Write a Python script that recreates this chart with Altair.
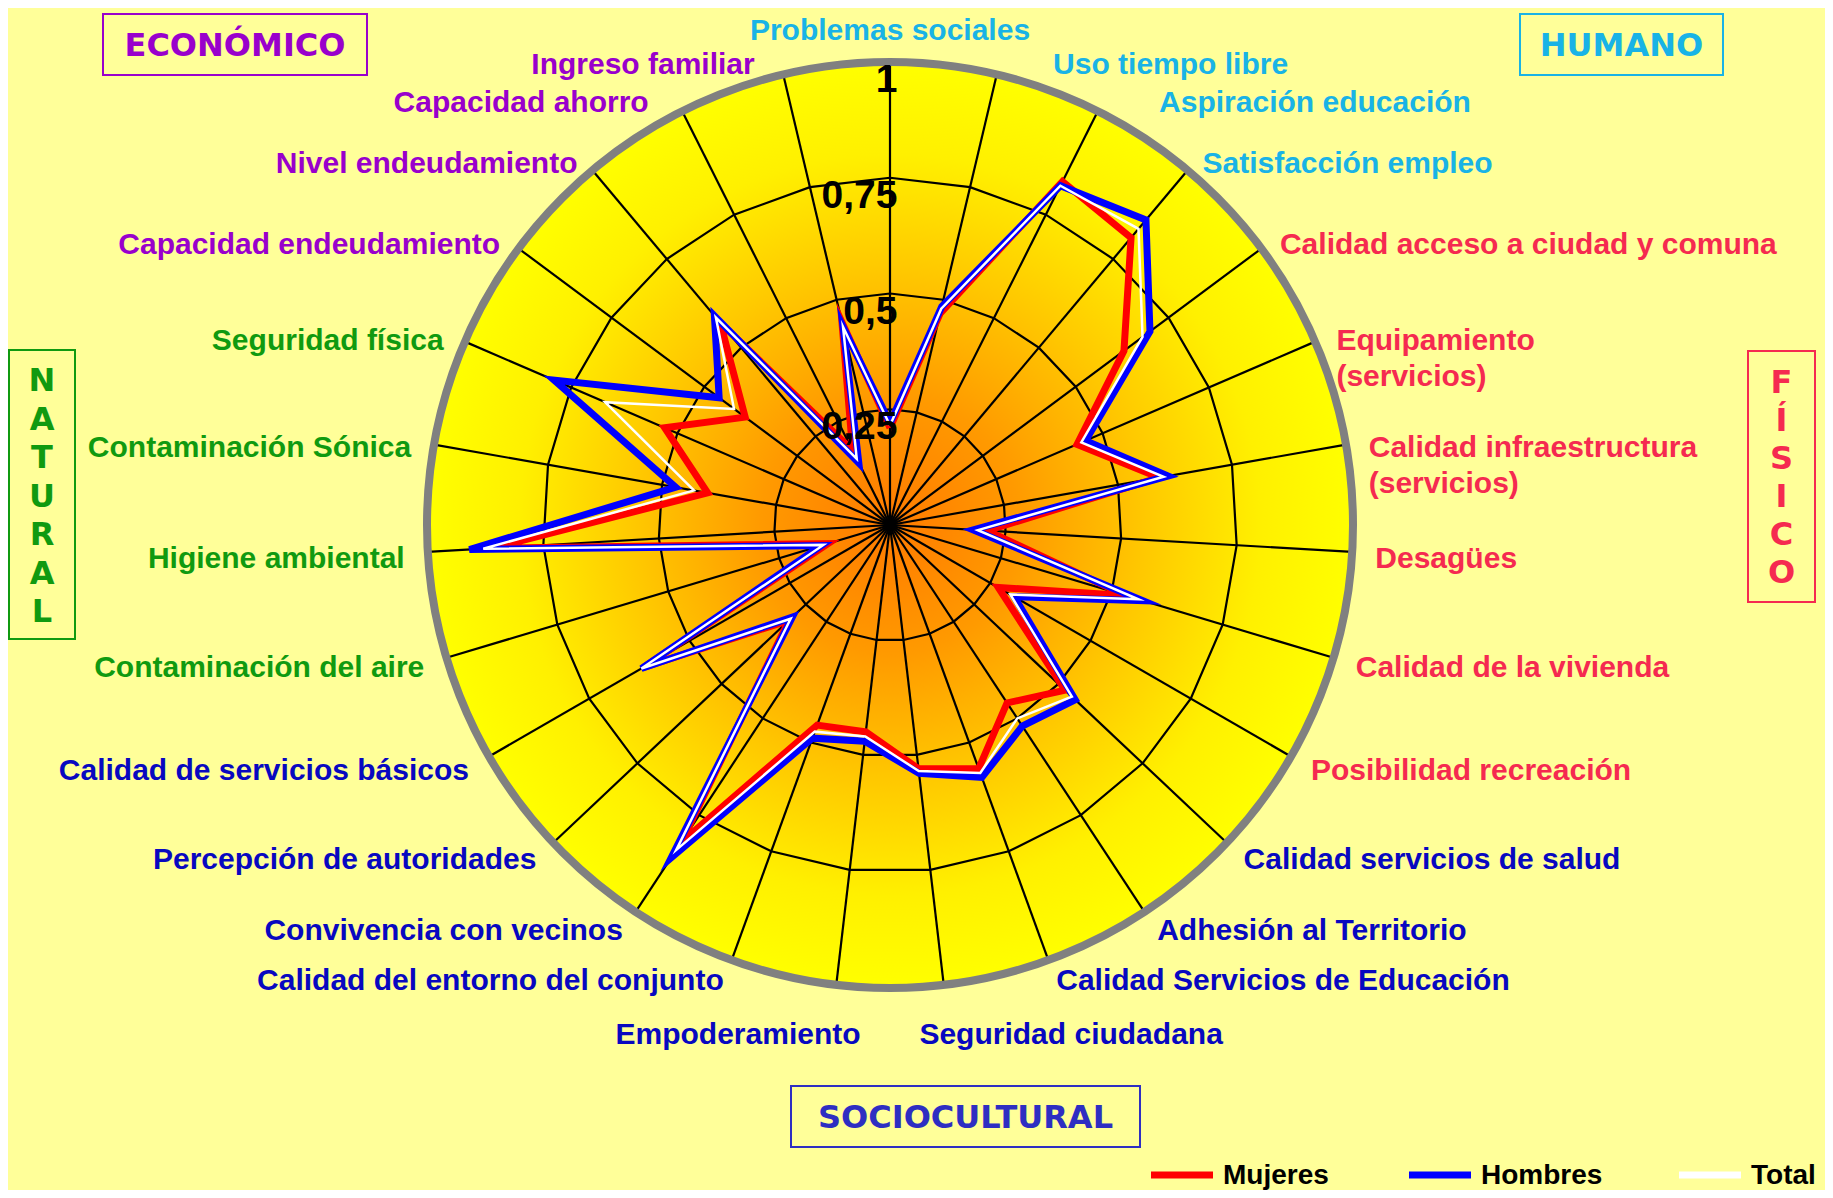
import math
import altair as alt
import pandas as pd

# ---------------- data ----------------
categories = [
    "Problemas sociales", "Uso tiempo libre", "Aspiración educación", "Satisfacción empleo",
    "Calidad acceso a ciudad y comuna", "Equipamiento\n(servicios)",
    "Calidad infraestructura\n(servicios)", "Desagües", "Calidad de la vivienda",
    "Posibilidad recreación", "Calidad servicios de salud", "Adhesión al Territorio",
    "Calidad Servicios de Educación", "Seguridad ciudadana", "Empoderamiento",
    "Calidad del entorno del conjunto", "Convivencia con vecinos", "Percepción de autoridades",
    "Calidad de servicios básicos", "Contaminación del aire", "Higiene ambiental",
    "Contaminación Sónica", "Seguridad física", "Capacidad endeudamiento",
    "Nivel endeudamiento", "Capacidad ahorro", "Ingreso familiar",
]
groups = (["HUMANO"] * 4 + ["FÍSICO"] * 6 + ["SOCIOCULTURAL"] * 9
          + ["NATURAL"] * 4 + ["ECONÓMICO"] * 4)

mujeres = [0.21, 0.47, 0.83, 0.81, 0.63, 0.44, 0.59, 0.21, 0.53, 0.27, 0.52, 0.46, 0.56, 0.53,
           0.45, 0.46, 0.82, 0.30, 0.615, 0.14, 0.86, 0.40, 0.53, 0.39, 0.57, 0.18, 0.45]
hombres = [0.22, 0.485, 0.82, 0.86, 0.70, 0.46, 0.61, 0.18, 0.57, 0.31, 0.55, 0.52, 0.58, 0.54,
           0.47, 0.49, 0.86, 0.29, 0.62, 0.155, 0.91, 0.47, 0.79, 0.46, 0.59, 0.15, 0.44]
total = [0.215, 0.48, 0.82, 0.835, 0.68, 0.45, 0.60, 0.19, 0.56, 0.30, 0.54, 0.50, 0.57, 0.535,
         0.46, 0.475, 0.84, 0.295, 0.62, 0.15, 0.88, 0.43, 0.67, 0.42, 0.585, 0.16, 0.44]

series_names = ["Mujeres", "Hombres", "Total"]
tick_values = [0.25, 0.5, 0.75, 1.0]
tick_labels = ["0,25", "0,5", "0,75", "1"]

# ---------------- styling / layout ----------------
W, H = 1817, 1182
R = 463.0          # pixels for value 1
CX, CY = 882.0, 517.0
N = len(categories)

BG = "#FFFF99"
SANS = "Liberation Sans, Arial, sans-serif"
WIDE = "DejaVu Sans, Verdana, sans-serif"
group_colors = {
    "HUMANO": "#19B3E6",
    "FÍSICO": "#F52A50",
    "SOCIOCULTURAL": "#0808C0",
    "NATURAL": "#109A10",
    "ECONÓMICO": "#9900CC",
}
series_colors = {"Mujeres": "#FF0000", "Hombres": "#0000FF", "Total": "#FFFFFF"}
series_widths = {"Mujeres": 7, "Hombres": 7, "Total": 2.5}

xs = alt.Scale(domain=[-CX / R, (W - CX) / R], nice=False, zero=False)
ys = alt.Scale(domain=[-(H - CY) / R, CY / R], nice=False, zero=False)


def X(f):
    return alt.X(f, type="quantitative", scale=xs, axis=None)


def Y(f):
    return alt.Y(f, type="quantitative", scale=ys, axis=None)


def ang(i):
    return 2 * math.pi * i / N


# ---------------- background disc ----------------
center_df = pd.DataFrame({"x": [0.0], "y": [0.0]})
gradient = alt.RadialGradient(
    gradient="radial",
    stops=[
        alt.GradientStop(color="#FF7A00", offset=0),
        alt.GradientStop(color="#FF9A00", offset=0.28),
        alt.GradientStop(color="#FFC800", offset=0.55),
        alt.GradientStop(color="#FFF000", offset=0.8),
        alt.GradientStop(color="#FFFF00", offset=1),
    ],
    x1=0.5, y1=0.5, r1=0, x2=0.5, y2=0.5, r2=0.5,
)
disc = alt.Chart(center_df).mark_point(
    shape="circle", size=(2 * R) ** 2, fill=gradient, filled=True,
    strokeWidth=0, opacity=1,
).encode(x=X("x"), y=Y("y"))

ring_outline = alt.Chart(center_df).mark_point(
    shape="circle", size=(2 * R) ** 2, filled=False, color="#808080",
    strokeWidth=8, opacity=1,
).encode(x=X("x"), y=Y("y"))

# ---------------- grid ----------------
grid_rows = []
for r in tick_values[:-1]:
    for k in range(N + 1):
        a = ang(k % N)
        grid_rows.append({"ring": r, "k": k, "x": r * math.sin(a), "y": r * math.cos(a)})
grid = alt.Chart(pd.DataFrame(grid_rows)).mark_line(color="black", strokeWidth=2.2).encode(
    x=X("x"), y=Y("y"), detail="ring:N", order="k:Q")

spoke_df = pd.DataFrame({
    "x0": [0.0] * N, "y0": [0.0] * N,
    "x1": [math.sin(ang(i)) for i in range(N)],
    "y1": [math.cos(ang(i)) for i in range(N)],
})
spokes = alt.Chart(spoke_df).mark_rule(color="black", strokeWidth=2.2).encode(
    x=X("x0"), y=Y("y0"), x2="x1", y2="y1")

# ---------------- series ----------------
values = {"Mujeres": mujeres, "Hombres": hombres, "Total": total}
series_layers = []
for s in series_names:
    rows = []
    for k in range(N + 1):
        i = k % N
        v = values[s][i]
        rows.append({"k": k, "cat": categories[i], "value": v,
                     "x": v * math.sin(ang(i)), "y": v * math.cos(ang(i))})
    series_layers.append(
        alt.Chart(pd.DataFrame(rows)).mark_line(
            color=series_colors[s], strokeWidth=series_widths[s],
            strokeJoin="miter", strokeMiterLimit=6,
        ).encode(x=X("x"), y=Y("y"), order="k:Q")
    )

# ---------------- tick labels ----------------
tick_df = pd.DataFrame({"x": [0.016] * 4, "y": tick_values, "label": tick_labels})
ticks = alt.Chart(tick_df).mark_text(
    align="right", baseline="top", font=SANS, fontSize=39, fontWeight="bold",
    color="black", dy=-1,
).encode(x=X("x"), y=Y("y"), text="label:N")

# ---------------- category labels ----------------
lab_rows = []
for i, c in enumerate(categories):
    s, co = math.sin(ang(i)), math.cos(ang(i))
    if abs(s) < 0.15:
        rr = 1.08 if co > 0 else 1.095
        x, y = rr * s * 0.5, rr * co
        side = "center" if abs(s) < 0.05 else ("left" if s > 0 else "right")
    else:
        x, y = 1.05 * s, 1.035 * co
        if co > 0.85:
            x += 0.11 if s > 0 else -0.05
        side = "left" if s > 0 else "right"
    lab_rows.append({"label": c, "group": groups[i], "side": side, "x": x, "y": y})
lab_df = pd.DataFrame(lab_rows)
color_scale = alt.Scale(domain=list(group_colors.keys()), range=list(group_colors.values()))
label_layers = []
for side in ["left", "right", "center"]:
    label_layers.append(
        alt.Chart(lab_df[lab_df.side == side]).mark_text(
            align=side, baseline="middle", font=SANS, fontSize=30,
            fontWeight="bold", lineBreak="\n", lineHeight=36, dy=6,
        ).encode(x=X("x"), y=Y("y"), text="label:N",
                 color=alt.Color("group:N", scale=color_scale, legend=None))
    )

# ---------------- group boxes ----------------
one = pd.DataFrame({"a": [0]})


def box(text, x0, y0, x1, y1, color, first_y=None, line_height=None):
    rect = alt.Chart(one).mark_rect(fillOpacity=0, stroke=color, strokeWidth=2).encode(
        x=alt.value(x0), x2=alt.value(x1), y=alt.value(y0), y2=alt.value(y1))
    kw = {}
    ty = (y0 + y1) / 2 + 1
    if line_height:
        kw = {"lineBreak": "\n", "lineHeight": line_height}
        ty = first_y
    txt = alt.Chart(one).mark_text(
        text=text, align="center", baseline="middle", font=WIDE, fontSize=32,
        fontWeight="bold", color=color, **kw,
    ).encode(x=alt.value((x0 + x1) / 2), y=alt.value(ty))
    return [rect, txt]


boxes = []
boxes += box("ECONÓMICO", 95, 6, 359, 67, group_colors["ECONÓMICO"])
boxes += box("HUMANO", 1512, 6, 1715, 67, group_colors["HUMANO"])
boxes += box("SOCIOCULTURAL", 783, 1078, 1132, 1139, "#2E2EC2")
boxes += box("N\nA\nT\nU\nR\nA\nL", 1, 342, 67, 631, group_colors["NATURAL"],
             first_y=373, line_height=38.5)
boxes += box("F\nÍ\nS\nI\nC\nO", 1740, 343, 1807, 594, group_colors["FÍSICO"],
             first_y=375, line_height=38)

# ---------------- legend ----------------
legend_layers = []
legend_pos = {"Mujeres": 1143, "Hombres": 1401, "Total": 1671}
for s in series_names:
    x0 = legend_pos[s]
    legend_layers.append(
        alt.Chart(one).mark_rule(color=series_colors[s], strokeWidth=7).encode(
            x=alt.value(x0), x2=alt.value(x0 + 62), y=alt.value(1167), y2=alt.value(1167)))
    legend_layers.append(
        alt.Chart(one).mark_text(
            text=s, align="left", baseline="middle", font=SANS, fontSize=28,
            fontWeight="bold", color="black",
        ).encode(x=alt.value(x0 + 72), y=alt.value(1168)))

chart = alt.layer(
    disc, grid, spokes, ring_outline, *series_layers, ticks, *label_layers, *boxes,
    *legend_layers,
).properties(
    width=W, height=H, background=BG, padding=0,
    autosize=alt.AutoSizeParams(type="none"),
).configure_view(strokeWidth=0)

chart.save("out.html", embed_options={"renderer": "svg", "actions": False})
